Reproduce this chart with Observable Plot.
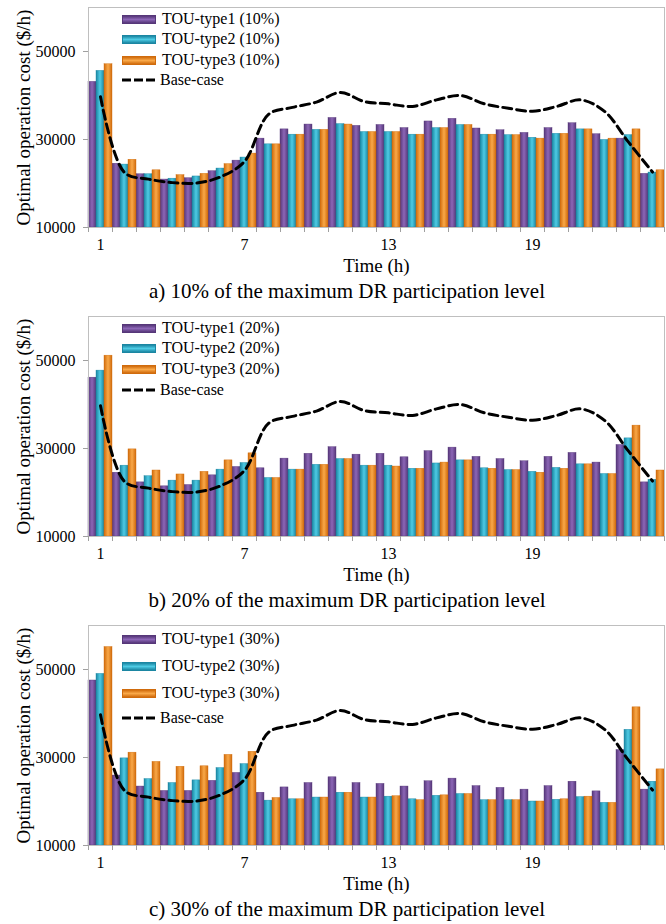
<!DOCTYPE html>
<html><head><meta charset="utf-8">
<script src="https://cdn.jsdelivr.net/npm/d3@7"></script>
<script src="https://cdn.jsdelivr.net/npm/@observablehq/plot@0.6"></script>
<style>
body{margin:0;background:#fff;font-family:"Liberation Serif","Times New Roman",serif;color:#000}
#root{position:relative;width:666px;height:924px;overflow:hidden}
.pan{position:absolute;left:0}
.leg{position:absolute;left:0;height:20px;display:flex;align-items:center;font-size:16px;white-space:nowrap}
.cap{position:absolute;left:47px;width:600px;text-align:center;font-size:21px;line-height:24px;white-space:nowrap}
</style>
</head><body><div id="root"></div>
<script>
const hours = d3.range(1, 25);
const seriesNames = ["TOU-type1", "TOU-type2", "TOU-type3"];
const levels = ["10%", "20%", "30%"];
const captions = [
  "a) 10% of the maximum DR participation level",
  "b) 20% of the maximum DR participation level",
  "c) 30% of the maximum DR participation level"
];
const yTicks = [10000, 30000, 50000];
const xLabelTicks = [1, 7, 13, 19];

const baseCase = [39700, 22500, 21000, 20200, 20100, 21500, 25000, 35700, 37300, 38500, 40700, 38600, 38100, 37500, 39000, 40000, 38100, 37100, 36400, 37500, 39000, 36400, 29400, 22600];

const type1_10 = [43100, 24500, 22100, 20900, 21200, 22800, 25200, 30200, 32300, 33400, 34900, 33100, 33300, 32600, 34100, 34700, 32500, 32100, 31500, 32600, 33700, 31200, 30200, 22200];
const type2_10 = [45600, 24300, 22100, 21100, 21600, 23400, 25900, 28900, 31100, 32200, 33500, 31700, 31700, 31100, 32600, 33300, 31100, 31000, 30400, 31300, 32300, 29900, 31000, 22500];
const type3_10 = [47100, 25400, 23000, 21900, 22200, 24400, 26800, 28900, 31100, 32200, 33400, 31700, 31700, 31100, 32600, 33300, 31100, 31000, 30200, 31300, 32300, 30200, 32300, 23000];

const type1_20 = [46100, 24500, 22300, 21400, 21700, 23900, 25800, 25500, 27700, 28800, 30300, 28600, 28800, 28000, 29400, 30200, 28100, 27600, 27100, 28100, 29000, 26800, 30800, 22300];
const type2_20 = [47700, 26100, 23700, 22700, 22700, 25200, 26700, 23300, 25200, 26300, 27600, 26100, 26100, 25400, 26600, 27300, 25500, 25100, 24700, 25600, 26400, 24200, 32300, 22900];
const type3_20 = [51100, 29800, 25000, 24100, 24700, 27300, 28900, 23300, 25200, 26300, 27600, 26100, 25900, 25400, 26800, 27300, 25400, 25100, 24500, 25400, 26400, 24200, 35200, 25000];

const type1_30 = [47500, 25900, 23400, 22400, 22400, 24700, 26500, 22000, 23200, 24200, 25500, 24200, 24000, 23400, 24600, 25200, 23500, 23100, 22700, 23500, 24500, 22300, 31700, 22700];
const type2_30 = [49000, 29800, 25100, 24200, 24800, 27600, 28500, 20200, 20500, 20900, 22000, 20900, 21100, 20500, 21300, 21700, 20300, 20300, 20000, 20400, 21000, 19700, 36300, 24500];
const type3_30 = [55100, 31100, 29000, 27900, 28000, 30600, 31300, 20800, 20500, 20900, 22000, 20900, 21200, 20300, 21400, 21700, 20300, 20300, 20000, 20500, 21100, 19700, 41400, 27300];

const panelsData = [
  [type1_10, type2_10, type3_10],
  [type1_20, type2_20, type3_20],
  [type1_30, type2_30, type3_30]
];

// gradient colours [edge, centre]
const barColors = [["#563779", "#8c66b6"], ["#1b86a2", "#4ecbe4"], ["#d06b0c", "#f9a848"]];

const panelTops = [0, 309, 618];
const legendOffsets = [[12, 32, 53, 73], [12, 32, 53, 74], [14, 41, 68, 93]];

const root = document.getElementById("root");
const FONT = "'Liberation Serif','Times New Roman',serif";

panelsData.forEach((series, p) => {
  const rows = [];
  series.forEach((vals, k) => vals.forEach((v, i) => rows.push({hour: hours[i], k, value: v})));
  const baseRows = hours.map((h, i) => ({hour: h, value: baseCase[i]}));
  const edges = d3.range(0.5, 25, 1);

  const svg = Plot.plot({
    width: 666, height: 280,
    marginTop: 7, marginBottom: 53, marginLeft: 88, marginRight: 2,
    x: {domain: [0.5, 24.5], axis: null},
    y: {domain: [10000, 60000], axis: null},
    style: {fontFamily: FONT, fontSize: "16px", color: "#000", background: "transparent", overflow: "visible"},
    marks: [
      ...[0, 1, 2].map(k => Plot.rectY(rows.filter(d => d.k === k), {
        x1: d => d.hour - 0.5 + d.k / 3,
        x2: d => d.hour - 0.5 + (d.k + 1) / 3,
        y1: 10000, y2: "value",
        fill: `url(#g${p}_${k})`, inset: 0,
        stroke: barColors[k][0], strokeWidth: 0.4
      })),
      Plot.line(baseRows, {x: "hour", y: "value", curve: "catmull-rom", stroke: "#000", strokeWidth: 3, strokeDasharray: "9,5"}),
      Plot.frame({stroke: "#bfbfbf"}),
      Plot.axisY({ticks: yTicks, tickFormat: d => String(d), tickSize: 5, tickPadding: 8, stroke: "#a0a0a0", fontSize: 16, label: null}),
      Plot.axisX({ticks: edges, tickSize: 5, tickFormat: () => "", stroke: "#a0a0a0", label: null}),
      Plot.axisX({ticks: xLabelTicks, tickSize: 0, tickPadding: 11, fontSize: 16, label: null}),
      Plot.text(["Time (h)"], {text: d => d, frameAnchor: "bottom", lineAnchor: "middle", dy: 38, fontSize: 19}),
      Plot.text(["Optimal operation cost ($/h)"], {text: d => d, frameAnchor: "left", textAnchor: "middle", lineAnchor: "middle", dx: -65, rotate: -90, fontSize: 19})
    ]
  });

  const defs = d3.select(svg).insert("defs", ":first-child");
  barColors.forEach((c, k) => {
    const g = defs.append("linearGradient").attr("id", `g${p}_${k}`).attr("x1", 0).attr("x2", 1).attr("y1", 0).attr("y2", 0);
    g.append("stop").attr("offset", "0%").attr("stop-color", c[0]);
    g.append("stop").attr("offset", "50%").attr("stop-color", c[1]);
    g.append("stop").attr("offset", "100%").attr("stop-color", c[0]);
  });

  const wrap = document.createElement("div");
  wrap.className = "pan";
  wrap.style.top = panelTops[p] + "px";
  wrap.appendChild(svg);
  root.appendChild(wrap);

  // legend
  const frameTop = panelTops[p] + 7;
  const labels = seriesNames.map(s => `${s} (${levels[p]})`).concat(["Base-case"]);
  labels.forEach((lab, j) => {
    const div = document.createElement("div");
    div.className = "leg";
    div.style.top = (frameTop + legendOffsets[p][j] - 10) + "px";
    div.style.left = "122px";
    let sw;
    if (j < 3) {
      const c = barColors[j];
      sw = `<div style="width:32px;height:7px;margin-right:6px;background:linear-gradient(to bottom, ${c[0]}, ${c[1]} 50%, ${c[0]});border:0.5px solid ${c[0]}"></div>`;
    } else {
      sw = `<svg width="33" height="6" style="margin-right:5px"><line x1="0" x2="33" y1="3" y2="3" stroke="#000" stroke-width="3" stroke-dasharray="9,3"/></svg>`;
    }
    div.innerHTML = sw + `<span>${lab}</span>`;
    root.appendChild(div);
  });

  const cap = document.createElement("div");
  cap.className = "cap";
  cap.style.top = (panelTops[p] + 279) + "px";
  cap.textContent = captions[p];
  root.appendChild(cap);
});
</script>
</body></html>
